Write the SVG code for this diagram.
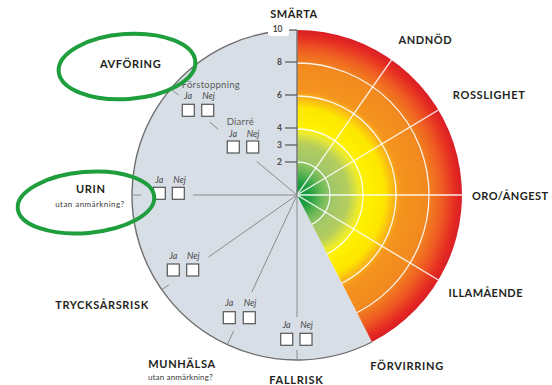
<svg xmlns="http://www.w3.org/2000/svg" width="552" height="385" viewBox="0 0 552 385">
  <defs>
    <radialGradient id="heat" gradientUnits="userSpaceOnUse" cx="297" cy="195" r="165">
      <stop offset="0" stop-color="#059236"/>
      <stop offset="0.08" stop-color="#22a043"/>
      <stop offset="0.15" stop-color="#6cb957"/>
      <stop offset="0.22" stop-color="#a3c868"/>
      <stop offset="0.31" stop-color="#b4cd5e"/>
      <stop offset="0.37" stop-color="#e6e836"/>
      <stop offset="0.41" stop-color="#fff200"/>
      <stop offset="0.53" stop-color="#fde600"/>
      <stop offset="0.59" stop-color="#f9b318"/>
      <stop offset="0.63" stop-color="#f5941d"/>
      <stop offset="0.78" stop-color="#f28a1f"/>
      <stop offset="0.88" stop-color="#ef5c22"/>
      <stop offset="0.96" stop-color="#e52b22"/>
      <stop offset="1" stop-color="#d81e25"/>
    </radialGradient>
    <clipPath id="hotClip">
      <path d="M297,195 L297,30 A165,165 0 0 1 371.9,342 Z"/>
    </clipPath>
  </defs>
  <style>
    .title { font-family: Lato, "Liberation Sans", sans-serif; font-weight: 700; font-size: 11px; fill: #231f20; }
    .sub { font-family: Lato, "Liberation Sans", sans-serif; font-size: 8px; fill: #3a3a3a; }
    .opt { font-family: Lato, "Liberation Sans", sans-serif; font-size: 9.5px; fill: #5c5c5c; }
    .yn { font-family: Lato, "Liberation Sans", sans-serif; font-style: italic; font-size: 9px; fill: #4a4a4a; text-anchor: middle; }
    .num { font-family: Lato, "Liberation Sans", sans-serif; font-weight: 700; font-size: 8.5px; fill: #4a4a4a; text-anchor: end; }
    .box { fill: #ffffff; stroke: #555; stroke-width: 1.2; }
    .spoke { stroke: #8c8c8c; stroke-width: 1; fill: none; }
    .grid { stroke: #ffffff; stroke-width: 1.3; fill: none; opacity: 0.9; }
    .ring { fill: none; stroke: #1f9e3d; stroke-width: 4; }
  </style>

  <!-- wheel: grey checklist half and graded symptom half -->
  <g id="wheel">
    <path d="M297,195 L371.9,342 A165,165 0 1 1 297,30 Z" fill="#d8dee6" stroke="none"/>
    <path d="M371.9,342 A165,165 0 1 1 297,30" fill="none" stroke="#6e6e6e" stroke-width="1.4"/>
    <path d="M297,195 L297,30 A165,165 0 0 1 371.9,342 Z" fill="url(#heat)"/>
    <g clip-path="url(#hotClip)">
      <circle class="grid" cx="297" cy="195" r="33"/>
      <circle class="grid" cx="297" cy="195" r="66"/>
      <circle class="grid" cx="297" cy="195" r="99"/>
      <circle class="grid" cx="297" cy="195" r="132"/>
      <line class="grid" x1="297" y1="195" x2="391.6" y2="59.8"/>
      <line class="grid" x1="297" y1="195" x2="438.4" y2="110"/>
      <line class="grid" x1="297" y1="195" x2="462" y2="195"/>
      <line class="grid" x1="297" y1="195" x2="438.4" y2="280"/>
    </g>
  </g>

  <!-- intensity scale along the vertical axis -->
  <g id="scale">
    <line x1="297" y1="30" x2="297" y2="195" stroke="#7a7a7a" stroke-width="1.5"/>
    <g stroke="#555" stroke-width="1.2">
      <line x1="285" y1="62" x2="297" y2="62"/>
      <line x1="285" y1="95" x2="297" y2="95"/>
      <line x1="285" y1="128" x2="297" y2="128"/>
      <line x1="285" y1="145" x2="297" y2="145"/>
      <line x1="285" y1="162" x2="297" y2="162"/>
    </g>
    <rect x="268" y="24" width="21" height="12" rx="3" fill="#ffffff"/>
    <text class="num" x="282.5" y="32" text-anchor="end">10</text>
    <text class="num" x="282" y="65.2">8</text>
    <text class="num" x="282" y="98">6</text>
    <text class="num" x="282" y="131">4</text>
    <text class="num" x="282" y="147.8">3</text>
    <text class="num" x="282" y="164.6">2</text>
  </g>

  <!-- connectors from the hub to the checkbox pairs -->
  <g id="connectors">
    <line class="spoke" x1="297" y1="195" x2="256.7" y2="161.5"/>
    <line class="spoke" x1="218.3" y1="129.3" x2="210" y2="122.2"/>
    <line class="spoke" x1="178.5" y1="95.2" x2="170.8" y2="88.7"/>
    <line class="spoke" x1="297" y1="195" x2="193" y2="195"/>
    <line class="spoke" x1="132" y1="195" x2="141" y2="195"/>
    <line class="spoke" x1="297" y1="195" x2="208.5" y2="257"/>
    <line class="spoke" x1="169.2" y1="284.5" x2="161.8" y2="289.7"/>
    <line class="spoke" x1="297" y1="195" x2="251.8" y2="292"/>
    <line class="spoke" x1="233.6" y1="331" x2="227.3" y2="344.5"/>
    <line class="spoke" x1="297" y1="195" x2="297" y2="317"/>
    <line class="spoke" x1="297" y1="350" x2="297" y2="360"/>
  </g>

  <!-- graded symptoms -->
  <g id="smarta"><text class="title" x="293.7" y="18.3" text-anchor="middle" textLength="47">SMÄRTA</text></g>
  <g id="andnod"><text class="title" x="425" y="44" text-anchor="middle" textLength="53">ANDNÖD</text></g>
  <g id="rosslighet"><text class="title" x="488.8" y="99.3" text-anchor="middle" textLength="72">ROSSLIGHET</text></g>
  <g id="oro"><text class="title" x="510" y="199.5" text-anchor="middle" textLength="76">ORO/ÅNGEST</text></g>
  <g id="illamaende"><text class="title" x="485.5" y="296.7" text-anchor="middle" textLength="74">ILLAMÅENDE</text></g>
  <g id="forvirring"><text class="title" x="406.7" y="369.5" text-anchor="middle" textLength="73">FÖRVIRRING</text></g>

  <!-- yes/no checks -->
  <g id="avforing">
    <text class="title" x="130.3" y="68.3" text-anchor="middle" textLength="60.7">AVFÖRING</text>
    <text class="opt" x="181.7" y="87.5" textLength="58">Förstoppning</text>
    <text class="yn" x="188" y="98.5">Ja</text>
    <text class="yn" x="208.5" y="98.5">Nej</text>
    <rect class="box" x="182.3" y="104.3" width="12" height="12"/>
    <rect class="box" x="201.7" y="104.3" width="12" height="12"/>
    <text class="opt" x="226.7" y="125" textLength="27">Diarré</text>
    <text class="yn" x="233" y="137.3">Ja</text>
    <text class="yn" x="253" y="137.3">Nej</text>
    <rect class="box" x="227.3" y="141" width="12" height="12"/>
    <rect class="box" x="246.7" y="141" width="12" height="12"/>
  </g>

  <g id="urin">
    <text class="title" x="90.5" y="192.7" text-anchor="middle" textLength="29">URIN</text>
    <text class="sub" x="89.7" y="206.7" text-anchor="middle" textLength="69">utan anmärkning?</text>
    <text class="yn" x="159.3" y="183.3">Ja</text>
    <text class="yn" x="179.5" y="183.3">Nej</text>
    <rect class="box" x="153.3" y="187.3" width="12" height="12"/>
    <rect class="box" x="172.3" y="187.3" width="12" height="12"/>
  </g>

  <g id="trycksar">
    <text class="title" x="101.7" y="309.3" text-anchor="middle" textLength="93">TRYCKSÅRSRISK</text>
    <text class="yn" x="173.3" y="258.5">Ja</text>
    <text class="yn" x="193.3" y="258.5">Nej</text>
    <rect class="box" x="167.3" y="264" width="12" height="12"/>
    <rect class="box" x="186.7" y="264" width="12" height="12"/>
  </g>

  <g id="munhalsa">
    <text class="title" x="181.7" y="368.3" text-anchor="middle" textLength="66.7">MUNHÄLSA</text>
    <text class="sub" x="180.3" y="380" text-anchor="middle" textLength="64.7">utan anmärkning?</text>
    <text class="yn" x="229.3" y="305.5">Ja</text>
    <text class="yn" x="250" y="305.5">Nej</text>
    <rect class="box" x="223.3" y="311.7" width="12" height="12"/>
    <rect class="box" x="243.3" y="311.7" width="12" height="12"/>
  </g>

  <g id="fallrisk">
    <text class="title" x="296" y="384" text-anchor="middle" textLength="53.4">FALLRISK</text>
    <text class="yn" x="286.7" y="328">Ja</text>
    <text class="yn" x="306.5" y="328">Nej</text>
    <rect class="box" x="280.7" y="333.3" width="12" height="12"/>
    <rect class="box" x="300" y="333.3" width="12" height="12"/>
  </g>

  <!-- green hand-drawn highlight rings -->
  <g id="highlights">
    <ellipse class="ring" cx="127" cy="66.5" rx="68.5" ry="32.5" transform="rotate(-4 127 66.5)"/>
    <ellipse class="ring" cx="86" cy="202.5" rx="68.5" ry="30.5" transform="rotate(-5 86 202.5)"/>
  </g>
</svg>
